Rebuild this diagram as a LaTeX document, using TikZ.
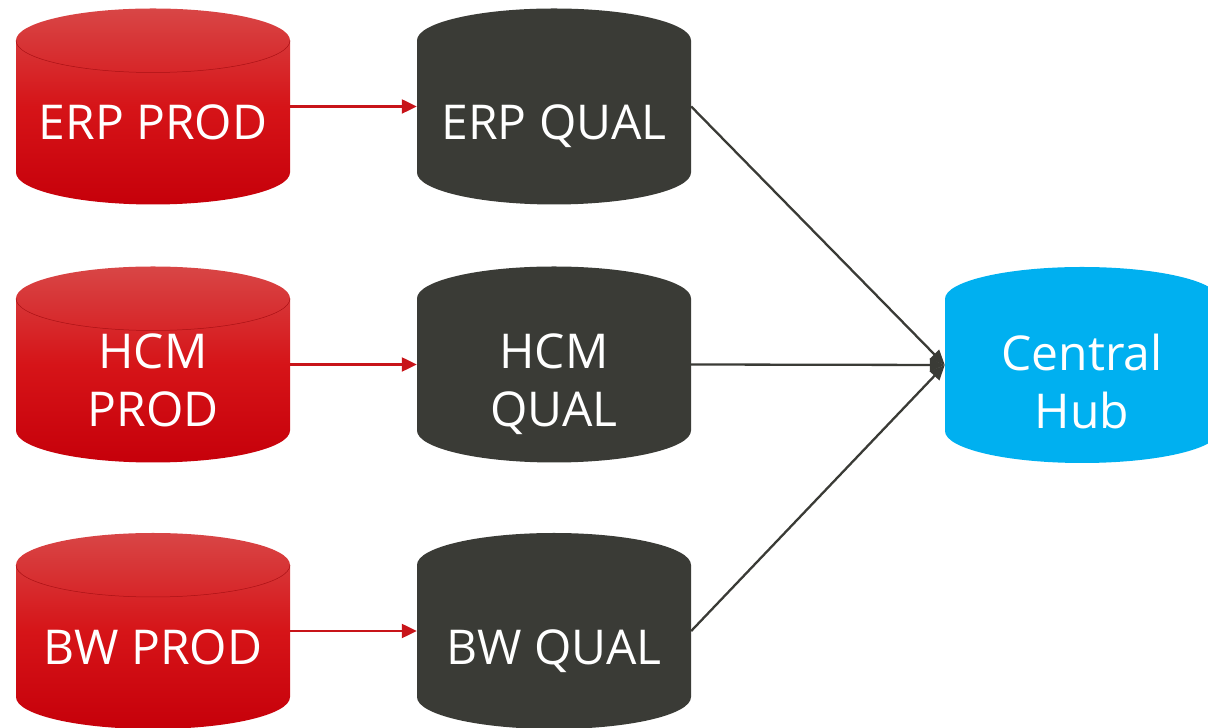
\documentclass[tikz,border=0pt]{standalone}
\usepackage{fontspec}
\setmainfont{Open Sans}
\usetikzlibrary{arrows.meta}
\definecolor{redtop}{RGB}{216,70,70}
\definecolor{redmid}{RGB}{214,20,24}
\definecolor{redbot}{RGB}{198,0,10}
\definecolor{redline}{RGB}{200,20,25}
\definecolor{darkgrey}{RGB}{58,59,54}
\definecolor{hubblue}{RGB}{0,176,240}
\tikzset{
  redfill/.style={top color=redtop, bottom color=redbot, middle color=redmid},
  darkfill/.style={fill=darkgrey},
  bluefill/.style={fill=hubblue},
  cylbox/.style={draw=none, minimum width=274pt, minimum height=196pt, inner sep=0pt},
  cyltext/.style={text=white, align=center, inner sep=0pt, font=\fontsize{48}{58}\selectfont},
  redarrow/.style={draw=redline, line width=2.3pt, -{Triangle[length=15pt,width=14pt]}},
  darkarrow/.style={draw=darkgrey, line width=2.3pt, -{Triangle[length=15pt,width=13pt]}},
}
\newcommand\mycyl[5]{%
  \path[#4] (#2-137,#3+66) -- (#2-137,#3-66)
    arc[start angle=180,end angle=360,x radius=137,y radius=32]
    -- (#2+137,#3+66)
    arc[start angle=0,end angle=180,x radius=137,y radius=32] -- cycle;
  \node[cylbox] (#1) at (#2,#3) {};
  \node[cyltext] (#1t) at (#2,#3-20) {#5\vphantom{Q}};
}
\newcommand\redrim[2]{%
  \draw[redline!85!black, line width=0.5pt] (#1-137,#2+66)
    arc[start angle=180,end angle=360,x radius=137,y radius=32];
}
\begin{document}
\begin{tikzpicture}[x=1pt,y=1pt]
\useasboundingbox (0,0) rectangle (1208,728);
\clip (0,0) rectangle (1208,728);
% red production cylinders
\mycyl{erpP}{153}{621.5}{redfill}{ERP PROD}
\redrim{153}{621.5}
\mycyl{hcmP}{153}{363.5}{redfill}{HCM\\PROD}
\redrim{153}{363.5}
\mycyl{bwP}{153}{97}{redfill}{BW PROD}
\redrim{153}{97}
% dark quality cylinders
\mycyl{erpQ}{554}{621.5}{darkfill}{ERP QUAL}
\mycyl{hcmQ}{554}{363.5}{darkfill}{HCM\\QUAL}
\mycyl{bwQ}{554}{97}{darkfill}{BW QUAL}
% hub
\mycyl{hub}{1082}{363}{bluefill}{Central\\Hub}
% connectors
\draw[redarrow] (erpP.east) -- (erpQ.west);
\draw[redarrow] (hcmP.east) -- (hcmQ.west);
\draw[redarrow] (bwP.east) -- (bwQ.west);
\draw[darkarrow] (erpQ.east) -- (hub.west);
\draw[darkarrow] (hcmQ.east) -- (hub.west);
\draw[darkarrow] (bwQ.east) -- (hub.west);
\end{tikzpicture}
\end{document}
